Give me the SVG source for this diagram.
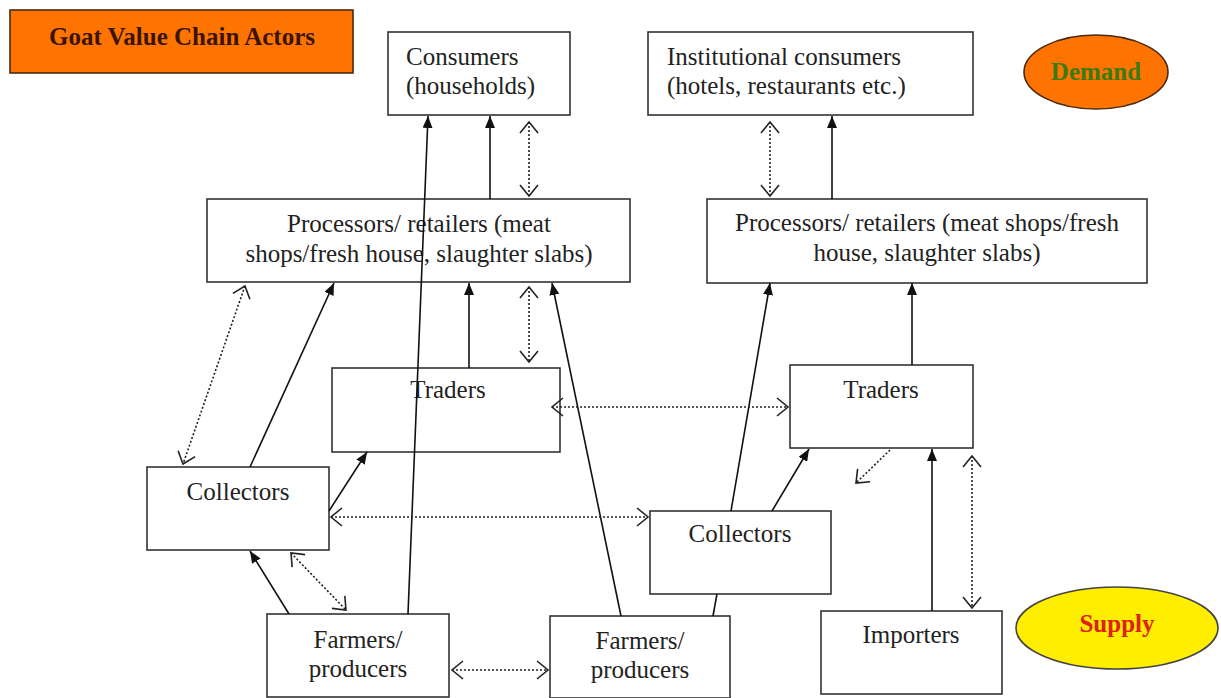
<svg xmlns="http://www.w3.org/2000/svg" width="1221" height="698" viewBox="0 0 1221 698">
<style>
.box{fill:#fff;stroke:#333;stroke-width:1.6}
.t{font-family:"Liberation Serif","Times New Roman",serif;font-size:25px;fill:#222}
.m{text-anchor:middle}
.b{font-weight:bold}
.ln{stroke:#111;stroke-width:1.6;fill:none}
.dt{stroke:#222;stroke-width:1.6;fill:none;stroke-dasharray:2 2}
</style>
<defs>
<marker id="af" markerUnits="userSpaceOnUse" markerWidth="12" markerHeight="10" refX="12" refY="5" orient="auto">
<path d="M0,0 L12,5 L0,10 z" fill="#111"/>
</marker>
<marker id="ao" markerUnits="userSpaceOnUse" markerWidth="14" markerHeight="20" refX="12" refY="10" orient="auto-start-reverse">
<path d="M1,1 L12,10 L1,19" fill="none" stroke="#222" stroke-width="1.6"/>
</marker>
</defs>
<rect width="1221" height="698" fill="#fff"/>

<g id="title">
<rect x="10" y="10" width="343" height="63" fill="#ff7400" stroke="#4a2a10" stroke-width="1.6"/>
<text x="182" y="45" class="t m b" style="fill:#3a1400">Goat Value Chain Actors</text>
</g>

<g id="demand">
<ellipse cx="1096" cy="72" rx="72" ry="37" fill="#ff7400" stroke="#4a2a10" stroke-width="1.6"/>
<text x="1096" y="80" class="t m b" style="fill:#3a7a10">Demand</text>
</g>

<g id="supply">
<ellipse cx="1117" cy="628" rx="101" ry="41" fill="#ffee00" stroke="#444" stroke-width="1.6"/>
<text x="1117" y="632" class="t m b" style="fill:#e02010">Supply</text>
</g>

<g id="consumers">
<rect x="388" y="32" width="182" height="83" class="box"/>
<text x="406" y="65" class="t">Consumers</text>
<text x="406" y="94" class="t">(households)</text>
</g>

<g id="institutional">
<rect x="648" y="32" width="325" height="83" class="box"/>
<text x="667" y="65" class="t">Institutional consumers</text>
<text x="667" y="94" class="t">(hotels, restaurants etc.)</text>
</g>

<g id="processors-left">
<rect x="207" y="199" width="423" height="83" class="box"/>
<text x="419" y="232" class="t m">Processors/ retailers (meat</text>
<text x="419" y="262" class="t m">shops/fresh house, slaughter slabs)</text>
</g>

<g id="processors-right">
<rect x="707" y="199" width="440" height="84" class="box"/>
<text x="927" y="231" class="t m">Processors/ retailers (meat shops/fresh</text>
<text x="927" y="261" class="t m">house, slaughter slabs)</text>
</g>

<g id="traders-left">
<rect x="332" y="368" width="228" height="84" class="box"/>
<text x="448" y="398" class="t m">Traders</text>
</g>

<g id="traders-right">
<rect x="790" y="365" width="183" height="83" class="box"/>
<text x="881" y="398" class="t m">Traders</text>
</g>

<g id="collectors-left">
<rect x="147" y="467" width="182" height="83" class="box"/>
<text x="238" y="500" class="t m">Collectors</text>
</g>

<g id="collectors-right">
<rect x="650" y="511" width="181" height="83" class="box"/>
<text x="740" y="542" class="t m">Collectors</text>
</g>

<g id="farmers-left">
<rect x="267" y="614" width="182" height="83" class="box"/>
<text x="358" y="648" class="t m">Farmers/</text>
<text x="358" y="677" class="t m">producers</text>
</g>

<g id="farmers-right">
<rect x="550" y="616" width="180" height="82" class="box"/>
<text x="640" y="649" class="t m">Farmers/</text>
<text x="640" y="678" class="t m">producers</text>
</g>

<g id="importers">
<rect x="821" y="611" width="181" height="83" class="box"/>
<text x="911" y="643" class="t m">Importers</text>
</g>

<g id="connectors">
<line x1="408" y1="614" x2="428" y2="116" class="ln" marker-end="url(#af)"/>
<line x1="490" y1="199" x2="490" y2="116" class="ln" marker-end="url(#af)"/>
<line x1="832" y1="199" x2="832" y2="116" class="ln" marker-end="url(#af)"/>
<line x1="469" y1="368" x2="469" y2="283" class="ln" marker-end="url(#af)"/>
<line x1="621" y1="616" x2="552" y2="283" class="ln" marker-end="url(#af)"/>
<line x1="250" y1="467" x2="334" y2="283" class="ln" marker-end="url(#af)"/>
<line x1="329" y1="511" x2="367" y2="452" class="ln" marker-end="url(#af)"/>
<line x1="713" y1="616" x2="717" y2="594" class="ln"/>
<line x1="731" y1="511" x2="770" y2="283" class="ln" marker-end="url(#af)"/>
<line x1="912" y1="365" x2="912" y2="283" class="ln" marker-end="url(#af)"/>
<line x1="772" y1="511" x2="809" y2="449" class="ln" marker-end="url(#af)"/>
<line x1="932" y1="611" x2="932" y2="449" class="ln" marker-end="url(#af)"/>
<line x1="289" y1="614" x2="250" y2="551" class="ln" marker-end="url(#af)"/>

<line x1="529" y1="122" x2="529" y2="196" class="dt" marker-start="url(#ao)" marker-end="url(#ao)"/>
<line x1="770" y1="122" x2="770" y2="196" class="dt" marker-start="url(#ao)" marker-end="url(#ao)"/>
<line x1="529" y1="287" x2="529" y2="362" class="dt" marker-start="url(#ao)" marker-end="url(#ao)"/>
<line x1="245" y1="286" x2="183" y2="464" class="dt" marker-start="url(#ao)" marker-end="url(#ao)"/>
<line x1="331" y1="517" x2="648" y2="517" class="dt" marker-start="url(#ao)" marker-end="url(#ao)"/>
<line x1="552" y1="407" x2="788" y2="407" class="dt" marker-start="url(#ao)" marker-end="url(#ao)"/>
<line x1="972" y1="456" x2="972" y2="608" class="dt" marker-start="url(#ao)" marker-end="url(#ao)"/>
<line x1="291" y1="553" x2="346" y2="610" class="dt" marker-start="url(#ao)" marker-end="url(#ao)"/>
<line x1="452" y1="670" x2="548" y2="670" class="dt" marker-start="url(#ao)" marker-end="url(#ao)"/>
<line x1="890" y1="450" x2="856" y2="483" class="dt" marker-end="url(#ao)"/>
</g>
</svg>
